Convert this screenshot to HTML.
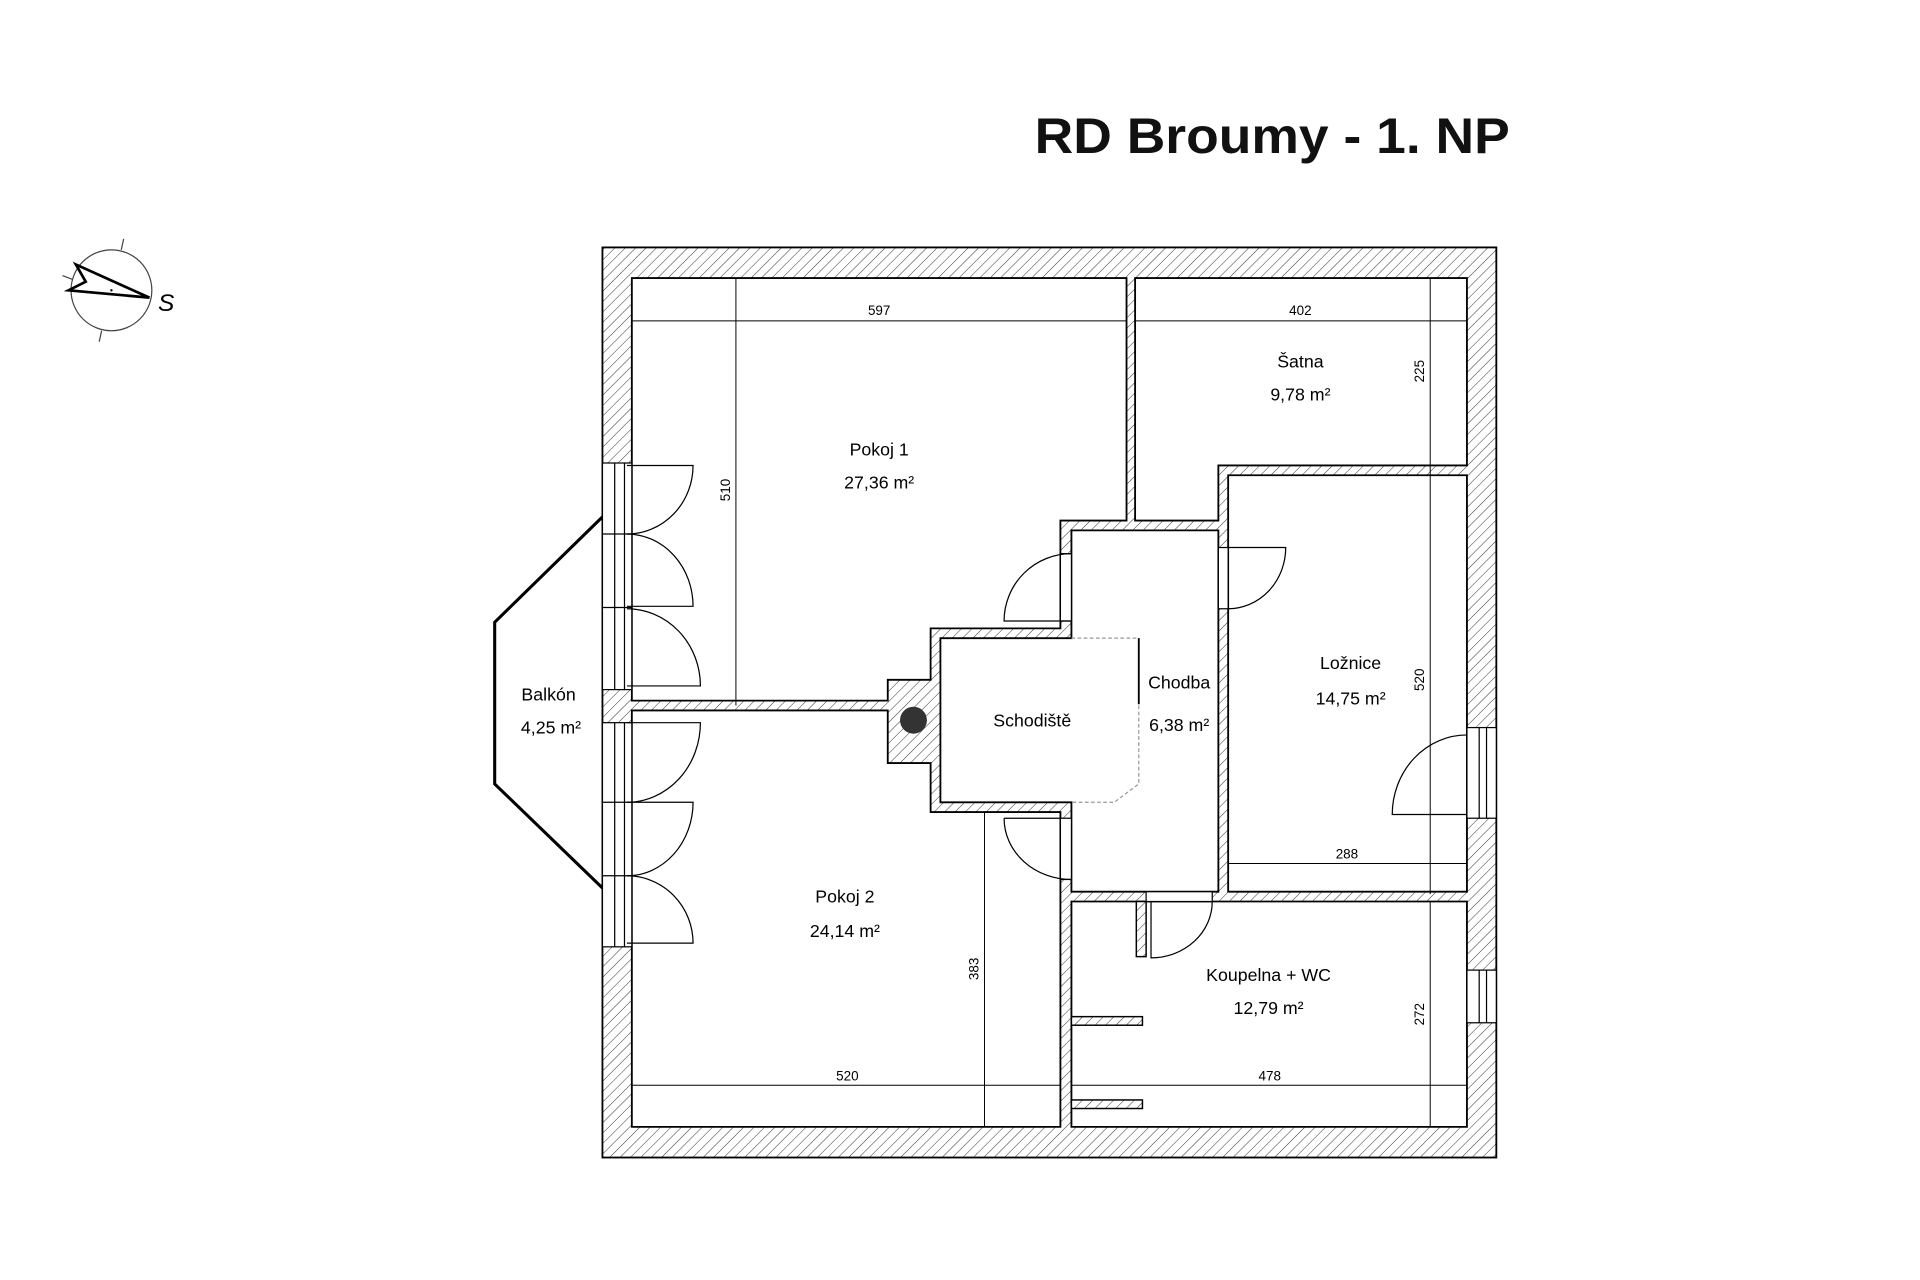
<!DOCTYPE html>
<html><head><meta charset="utf-8"><style>html,body{margin:0;padding:0;background:#fff}svg{display:block}</style></head>
<body>
<svg width="1920" height="1280" viewBox="0 0 1568 1045" preserveAspectRatio="none" xmlns="http://www.w3.org/2000/svg" font-family="Liberation Sans, sans-serif">
<defs>
<pattern id="h" patternUnits="userSpaceOnUse" width="6" height="6" patternTransform="rotate(45)">
<rect width="6" height="6" fill="#fff"/><line x1="0" y1="0" x2="0" y2="6" stroke="#333" stroke-width="0.8"/>
</pattern>
</defs>
<rect width="1568" height="1045" fill="#fff"/>
<text x="845" y="125" font-size="41" font-weight="bold" fill="#111" textLength="388" lengthAdjust="spacingAndGlyphs">RD Broumy - 1. NP</text>

<!-- compass -->
<circle cx="91" cy="237" r="33" fill="none" stroke="#444" stroke-width="1"/>
<line x1="99" y1="204" x2="101" y2="195" stroke="#444"/>
<line x1="83" y1="270" x2="81" y2="279" stroke="#444"/>
<line x1="59" y1="228" x2="51" y2="225" stroke="#444"/>
<polygon points="62,216 70,230 56,237 122,243" fill="none" stroke="#000" stroke-width="2.2"/>
<circle cx="91" cy="237" r="1" fill="#000"/>
<text x="129" y="254" font-size="20" font-style="italic" fill="#000">S</text>

<!-- balcony -->
<polyline points="492,422 404,508 404,640 492,725" fill="none" stroke="#000" stroke-width="2.5"/>

<!-- outer hatched block -->
<rect x="492" y="202" width="730" height="743" fill="url(#h)" stroke="#000" stroke-width="1.5"/>

<g fill="#fff" stroke="#000" stroke-width="1.5">
<polygon points="516,227 920,227 920,425 866,425 866,513 760,513 760,555 725,555 725,572 516,572"/>
<polygon points="927,227 1198,227 1198,380 995,380 995,425 927,425"/>
<polygon points="875,433 995,433 995,728 875,728 875,655 768,655 768,521 875,521"/>
<polygon points="1003,388 1198,388 1198,728 1003,728"/>
<polygon points="875,736 1198,736 1198,920 875,920"/>
<polygon points="516,580 725,580 725,623 760,623 760,663 866,663 866,920 516,920"/>
</g>
<circle cx="746" cy="588" r="11" fill="#333"/>
<polyline points="875,521 930,521 930,640 910,655 875,655" fill="none" stroke="#999" stroke-width="1" stroke-dasharray="3,2"/>
<line x1="930" y1="521" x2="930" y2="575" stroke="#000" stroke-width="1.5"/>
<g fill="url(#h)" stroke="#000" stroke-width="1.2">
<rect x="928" y="736" width="8" height="45"/>
<rect x="875" y="830" width="58" height="7"/>
<rect x="875" y="898" width="58" height="7"/>
</g>

<g fill="#fff" stroke="#000" stroke-width="1">
<rect x="492" y="378" width="24" height="185"/>
<rect x="492" y="590" width="24" height="183"/>
<rect x="1198" y="594" width="24" height="74"/>
<rect x="1198" y="792" width="24" height="43"/>
<rect x="866" y="452" width="9" height="55"/>
<rect x="866" y="668" width="9" height="50"/>
<rect x="995" y="447" width="8" height="50"/>
<rect x="936" y="728" width="54" height="8"/>
</g>
<g stroke="#000" stroke-width="1">
<line x1="502" y1="378" x2="502" y2="563"/><line x1="510" y1="378" x2="510" y2="563"/>
<line x1="502" y1="590" x2="502" y2="773"/><line x1="510" y1="590" x2="510" y2="773"/>
<line x1="1208" y1="594" x2="1208" y2="668"/><line x1="1214" y1="594" x2="1214" y2="668"/>
<line x1="1208" y1="792" x2="1208" y2="835"/><line x1="1214" y1="792" x2="1214" y2="835"/>
<line x1="492" y1="436" x2="516" y2="436"/><line x1="492" y1="496" x2="516" y2="496"/>
<line x1="492" y1="655" x2="516" y2="655"/><line x1="492" y1="715" x2="516" y2="715"/>
</g>
<g fill="none" stroke="#000" stroke-width="1">
<path d="M512,380 H566 A54,56 0 0 1 512,436"/>
<path d="M512,436 A54,59 0 0 1 566,495 H512"/>
<path d="M512,497 A60,63 0 0 1 572,560 H512"/>
<path d="M512,590 H572 A60,65 0 0 1 512,655"/>
<path d="M512,655 H566 A54,60 0 0 1 512,715"/>
<path d="M512,715 A54,55 0 0 1 566,770 H512"/>
<path d="M875,452 A55,55 0 0 0 820,507 H875"/>
<path d="M820,668 H866 M820,668 A55,50 0 0 0 875,718"/>
<path d="M1003,447 H1050 A47,50 0 0 1 1003,497"/>
<path d="M1198,600 A61,65 0 0 0 1137,665 H1198"/>
<path d="M990,736 A50,46 0 0 1 940,782 V736"/>
</g>

<g stroke="#000" stroke-width="0.8" fill="none">
<line x1="516" y1="262" x2="920" y2="262"/>
<line x1="927" y1="262" x2="1198" y2="262"/>
<line x1="601" y1="227" x2="601" y2="576"/>
<line x1="1168" y1="227" x2="1168" y2="380"/>
<line x1="1168" y1="380" x2="1168" y2="730"/>
<line x1="1003" y1="705" x2="1198" y2="705"/>
<line x1="804" y1="663" x2="804" y2="920"/>
<line x1="516" y1="886" x2="866" y2="886"/>
<line x1="875" y1="886" x2="1198" y2="886"/>
<line x1="1168" y1="736" x2="1168" y2="920"/>
</g>
<g font-size="11" fill="#000" text-anchor="middle">
<text x="718" y="257">597</text>
<text x="1062" y="257">402</text>
<text x="1100" y="701">288</text>
<text x="692" y="882">520</text>
<text x="1037" y="882">478</text>
<text transform="translate(596,400) rotate(-90)">510</text>
<text transform="translate(1163,303) rotate(-90)">225</text>
<text transform="translate(1163,555) rotate(-90)">520</text>
<text transform="translate(799,791) rotate(-90)">383</text>
<text transform="translate(1163,828) rotate(-90)">272</text>
</g>
<g font-size="14.5" fill="#000" text-anchor="middle">
<text x="718" y="372">Pokoj 1</text><text x="718" y="399">27,36 m²</text>
<text x="1062" y="300">Šatna</text><text x="1062" y="327">9,78 m²</text>
<text x="1103" y="546">Ložnice</text><text x="1103" y="575">14,75 m²</text>
<text x="963" y="562">Chodba</text><text x="963" y="597">6,38 m²</text>
<text x="843" y="593">Schodiště</text>
<text x="448" y="572">Balkón</text><text x="450" y="599">4,25 m²</text>
<text x="690" y="737">Pokoj 2</text><text x="690" y="765">24,14 m²</text>
<text x="1036" y="801">Koupelna + WC</text><text x="1036" y="828">12,79 m²</text>
</g>
</svg>
</body></html>
